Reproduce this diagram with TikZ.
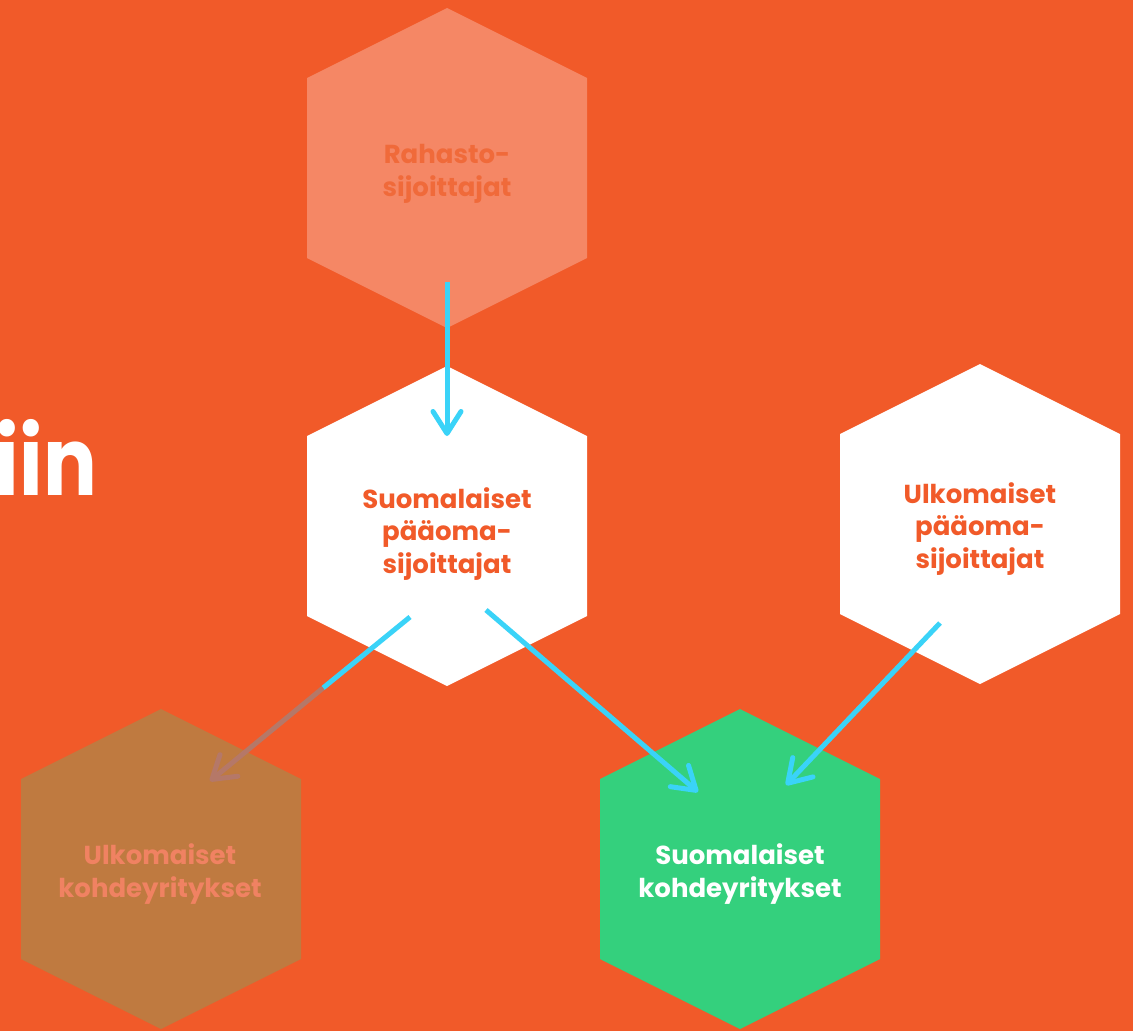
\documentclass[tikz,border=0pt]{standalone}
\usepackage{fontspec}
\setmainfont{Poppins}
\usetikzlibrary{arrows.meta}
\definecolor{bgor}{HTML}{F15A29}
\definecolor{lighthex}{HTML}{F58765}
\definecolor{brownhex}{HTML}{BF7A40}
\definecolor{greenhex}{HTML}{34D07D}
\definecolor{arrcyan}{HTML}{3AD3F8}
\definecolor{arrfade}{HTML}{B57868}
\definecolor{toptext}{HTML}{F06A3A}
\definecolor{browntext}{HTML}{F08262}
\tikzset{
  x=1pt, y=-1pt,
  lbl/.style={align=center, font=\fontsize{26}{32.5}\selectfont\bfseries, inner sep=0pt},
  conn/.style={line width=5pt, color=arrcyan},
  tipped/.style={-{Straight Barb[length=22pt,width=28pt,round]}},
}
\newcommand\hexpath[2]{\fill[#2] (#1) ++(0,-160) -- ++(140,70) -- ++(0,180) -- ++(-140,70) -- ++(-140,-70) -- ++(0,-180) -- cycle;}
\begin{document}
\begin{tikzpicture}
\fill[bgor] (0,0) rectangle (1133,1031);
\useasboundingbox (0,0) rectangle (1133,1031);

\coordinate (ctop) at (447,168);
\coordinate (cmid) at (447,526);
\coordinate (cright) at (980,524);
\coordinate (cbrown) at (161,869);
\coordinate (cgreen) at (740,869);

\hexpath{ctop}{lighthex}
\hexpath{cmid}{white}
\hexpath{cright}{white}
\hexpath{cbrown}{brownhex}
\hexpath{cgreen}{greenhex}

\node[anchor=base east, inner sep=0pt, text=white, xscale=0.84, font=\fontsize{95}{95}\selectfont\bfseries] (big) at (97,495) {iin};

\node[lbl, text=toptext] (rahasto) at (447,174) {Rahasto-\\sijoittajat};
\node[lbl, text=bgor] (suompaa) at (447,534) {Suomalaiset\\pääoma-\\sijoittajat};
\node[lbl, text=bgor] (ulkpaa) at (980,529) {Ulkomaiset\\pääoma-\\sijoittajat};
\node[lbl, text=browntext] (ulkkoh) at (160,874) {Ulkomaiset\\kohdeyritykset};
\node[lbl, text=white] (suokoh) at (740,874) {Suomalaiset\\kohdeyritykset};

% connector end points
\coordinate (a1s) at (447,282);
\coordinate (a1e) at (447,436);
\coordinate (a2s) at (410,617);
\coordinate (a2m) at (323,688);
\coordinate (a2e) at (210,781);
\coordinate (a3s) at (486,610);
\coordinate (a3e) at (698,792);
\coordinate (a4s) at (940,623);
\coordinate (a4e) at (786,785);

\draw[conn, tipped] (a1s) -- (a1e);
\draw[conn] (a2s) -- (a2m);
\draw[conn, color=arrfade, tipped] (a2m) -- (a2e);
\draw[conn, tipped] (a3s) -- (a3e);
\draw[conn, tipped] (a4s) -- (a4e);
\end{tikzpicture}
\end{document}
